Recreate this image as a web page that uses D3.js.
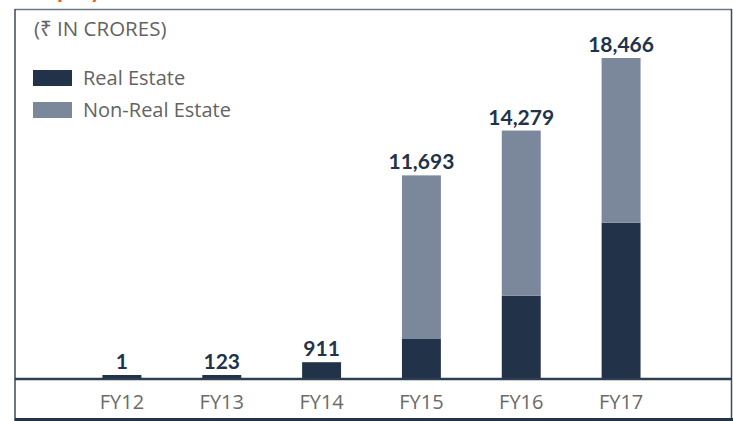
<!DOCTYPE html>
<html>
<head>
<meta charset="utf-8">
<script src="https://cdn.jsdelivr.net/npm/d3@7"></script>
<style>
  body { margin: 0; background: #fff; }
  svg { display: block; font-family: Lato, "Noto Sans", sans-serif; }
</style>
</head>
<body>
<div id="chart"></div>
<script>
"use strict";

// Data
var years = ["FY12", "FY13", "FY14", "FY15", "FY16", "FY17"];
var realEstate = [1, 123, 911, 2250, 4750, 8960];
var nonRealEstate = [0, 0, 0, 9443, 9529, 9506];
var totals = [1, 123, 911, 11693, 14279, 18466];
var seriesNames = ["Real Estate", "Non-Real Estate"];
var colors = ["#223349", "#7b879a"];

var width = 733, height = 421;
var lightFont = "'Open Sans', 'Noto Sans', sans-serif";

var svg = d3.select("#chart")
  .append("svg")
  .attr("width", width)
  .attr("height", height);

// Orange heading, cut off at the top of the picture
svg.append("text")
  .attr("x", 26)
  .attr("y", -2)
  .attr("fill", "#f05a28")
  .attr("font-weight", "bold")
  .attr("font-size", 24)
  .text("Deployment");

// Frame
svg.append("line").attr("x1", 15).attr("x2", 732).attr("y1", 9.5).attr("y2", 9.5)
  .attr("stroke", "#6b7789").attr("stroke-width", 1.5);
svg.append("line").attr("x1", 15).attr("x2", 15).attr("y1", 9).attr("y2", 421)
  .attr("stroke", "#3b4a5e").attr("stroke-width", 1.5);
svg.append("line").attr("x1", 731.5).attr("x2", 731.5).attr("y1", 9).attr("y2", 421)
  .attr("stroke", "#3b4a5e").attr("stroke-width", 1.5);
svg.append("line").attr("x1", 15).attr("x2", 733).attr("y1", 419.5).attr("y2", 419.5)
  .attr("stroke", "#223349").attr("stroke-width", 3);

// Scales
var x = d3.scaleBand()
  .domain(years)
  .range([72, 671])
  .paddingInner(0.61)
  .paddingOuter(0.305);

var y = d3.scaleLinear()
  .domain([0, d3.max(totals)])
  .range([378, 58]);

// Stacked data
var table = years.map(function (d, i) {
  return { year: d, "Real Estate": realEstate[i], "Non-Real Estate": nonRealEstate[i] };
});
var stacked = d3.stack().keys(seriesNames)(table);

var layers = svg.selectAll("g.layer")
  .data(stacked)
  .enter()
  .append("g")
  .attr("class", "layer")
  .attr("fill", function (d, i) { return colors[i]; });

layers.selectAll("rect")
  .data(function (d) { return d; })
  .enter()
  .append("rect")
  .attr("x", function (d) { return x(d.data.year); })
  .attr("width", x.bandwidth())
  .attr("y", function (d) {
    var h = y(d[0]) - y(d[1]);
    // tiny values still show as a sliver, as in the original
    if (d[1] > d[0] && h < 3) { return y(d[0]) - 3; }
    return y(d[1]);
  })
  .attr("height", function (d) {
    var h = y(d[0]) - y(d[1]);
    if (d[1] > d[0] && h < 3) { return 3; }
    return h;
  });

// Total labels
svg.selectAll("text.total")
  .data(totals)
  .enter()
  .append("text")
  .attr("class", "total")
  .attr("x", function (d, i) { return x(years[i]) + x.bandwidth() / 2; })
  .attr("y", function (d) { return Math.min(y(d), 375) - 6; })
  .attr("text-anchor", "middle")
  .attr("font-weight", "bold")
  .attr("font-size", 21)
  .attr("fill", "#223349")
  .text(function (d) { return d3.format(",")(d); });

// Baseline across the frame
svg.append("line").attr("x1", 15).attr("x2", 732).attr("y1", 379).attr("y2", 379)
  .attr("stroke", "#2e3d51").attr("stroke-width", 2.5);

// Category axis
var xAxis = d3.axisBottom(x).tickSize(0);
var axisG = svg.append("g")
  .attr("transform", "translate(0,379)")
  .call(xAxis);
axisG.select(".domain").remove();
axisG.selectAll("text")
  .attr("y", 30)
  .attr("dy", null)
  .attr("font-family", lightFont)
  .attr("font-size", 20)
  .attr("fill", "#6a6a6a");

// Unit note
svg.append("text")
  .attr("x", 34)
  .attr("y", 36)
  .attr("font-family", lightFont)
  .attr("font-size", 20.5)
  .attr("fill", "#636363")
  .text("(₹ IN CRORES)");

// Legend
var legend = svg.selectAll("g.legend")
  .data(seriesNames)
  .enter()
  .append("g")
  .attr("class", "legend")
  .attr("transform", function (d, i) { return "translate(33," + (70 + i * 32) + ")"; });

legend.append("rect")
  .attr("width", 39)
  .attr("height", 16)
  .attr("fill", function (d, i) { return colors[i]; });

legend.append("text")
  .attr("x", 50)
  .attr("y", 15)
  .attr("font-family", lightFont)
  .attr("font-size", 20)
  .attr("fill", "#636363")
  .text(function (d) { return d; });
</script>
</body>
</html>
